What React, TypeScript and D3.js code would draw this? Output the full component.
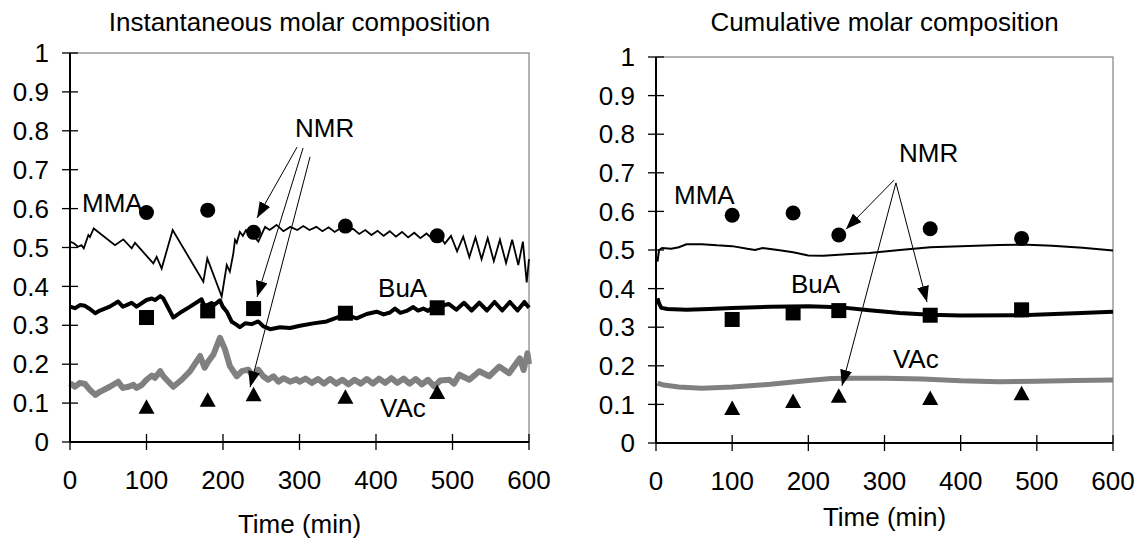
import React from "react";
import * as d3 from "d3";

type P = [number, number];

// ---------- Data ----------
const xTicks = [0, 100, 200, 300, 400, 500, 600];
const yTicks = [0, 0.1, 0.2, 0.3, 0.4, 0.5, 0.6, 0.7, 0.8, 0.9, 1];
const yTickLabels = ["0", "0.1", "0.2", "0.3", "0.4", "0.5", "0.6", "0.7", "0.8", "0.9", "1"];

const nmrTimes = [100, 180, 240, 360, 480];
const nmrMMA = [0.59, 0.596, 0.539, 0.555, 0.53];
const nmrBuA = [0.32, 0.337, 0.343, 0.331, 0.345];
const nmrVAc = [0.088, 0.106, 0.12, 0.114, 0.126];

const instMMA: P[] = [
  [0, 0.515], [5, 0.511], [10.5, 0.502], [15, 0.506], [18, 0.498], [24, 0.532], [26, 0.527], [31, 0.549],
  [58.8, 0.506], [69.7, 0.521], [80.6, 0.498], [85, 0.512], [108.9, 0.459], [113.3, 0.476], [119.8, 0.446],
  [134.2, 0.545], [174.3, 0.412], [179.5, 0.472], [198.3, 0.374], [204.9, 0.455], [209, 0.438], [213.5, 0.485],
  [215.7, 0.52], [218, 0.512], [222, 0.54], [226, 0.53], [230, 0.545], [238, 0.535], [246.2, 0.515], [255, 0.553],
  [261, 0.545], [270, 0.558], [279, 0.542], [288, 0.553], [297, 0.545], [305, 0.555], [313, 0.545], [322, 0.553],
  [330, 0.542], [338, 0.552], [346, 0.54], [354, 0.55], [362, 0.543], [370, 0.548], [378, 0.535], [386, 0.545],
  [394, 0.532], [402, 0.543], [410, 0.53], [418, 0.542], [426, 0.528], [434, 0.54], [442, 0.526], [450, 0.538],
  [458, 0.524], [466, 0.536], [474, 0.522], [482, 0.535], [490, 0.51], [498, 0.53], [506, 0.49], [514, 0.528],
  [522, 0.475], [530, 0.526], [538, 0.47], [546, 0.524], [554, 0.465], [562, 0.52], [570, 0.46], [578, 0.52],
  [586, 0.455], [592, 0.515], [597, 0.41], [600, 0.47],
];

const instBuA: P[] = [
  [0, 0.348], [6.5, 0.344], [13, 0.352], [19.6, 0.35], [26, 0.342], [33, 0.331], [39, 0.338], [52, 0.348],
  [63, 0.361], [69, 0.348], [74, 0.352], [80.5, 0.358], [87, 0.348], [100, 0.365], [107, 0.369], [111, 0.365],
  [118, 0.375], [122, 0.369], [135, 0.32], [146, 0.335], [157, 0.348], [172, 0.367], [176, 0.348], [185, 0.357],
  [189, 0.353], [196, 0.364], [199.6, 0.348], [205, 0.335], [211.5, 0.309], [218, 0.301], [222, 0.295],
  [229, 0.305], [237.5, 0.303], [246, 0.31], [253, 0.297], [261.5, 0.29], [274.5, 0.295], [287.6, 0.293],
  [300.6, 0.299], [318, 0.305], [335.5, 0.31], [350.7, 0.321], [361.6, 0.327], [374.7, 0.318], [387.8, 0.329],
  [400.8, 0.335], [410, 0.328], [418.3, 0.333], [424.8, 0.343], [432, 0.332], [440, 0.337], [448.7, 0.347],
  [455, 0.338], [461.8, 0.343], [468, 0.337], [474.8, 0.347], [481, 0.34], [487.8, 0.351], [495, 0.355],
  [505, 0.34], [515, 0.358], [525, 0.338], [535, 0.358], [545, 0.338], [555, 0.36], [565, 0.338], [575, 0.36],
  [585, 0.338], [594, 0.36], [600, 0.345],
];

const instVAc: P[] = [
  [0, 0.151], [6.5, 0.142], [13, 0.152], [19.6, 0.149], [26, 0.134], [33, 0.121], [39, 0.129], [52, 0.142],
  [63, 0.155], [69, 0.139], [76.5, 0.142], [83, 0.147], [87, 0.139], [94, 0.147], [100, 0.16], [107, 0.171],
  [111, 0.165], [118, 0.182], [122, 0.169], [135, 0.142], [146, 0.16], [157, 0.182], [170, 0.221], [176, 0.191],
  [181, 0.208], [187.5, 0.225], [196, 0.268], [202.6, 0.238], [209, 0.195], [218, 0.169], [224.6, 0.182],
  [233, 0.186], [239.6, 0.169], [246, 0.186], [252.6, 0.169], [259, 0.16], [266, 0.169], [272.5, 0.155],
  [279, 0.164], [287.6, 0.155], [296, 0.161], [300, 0.155], [308, 0.163], [316, 0.152], [324, 0.162],
  [332, 0.15], [340, 0.162], [348, 0.15], [356, 0.16], [364, 0.148], [372, 0.16], [380, 0.15], [388, 0.162],
  [396, 0.15], [404, 0.163], [412, 0.152], [420, 0.164], [428, 0.152], [436, 0.163], [444, 0.15], [452, 0.162],
  [460, 0.148], [468, 0.16], [476, 0.143], [484, 0.158], [496, 0.16], [502, 0.15], [509, 0.173], [522, 0.16],
  [535, 0.182], [548, 0.169], [561, 0.194], [574, 0.177], [588, 0.215], [593, 0.185], [598, 0.228], [600, 0.2],
];

const cumMMA: P[] = [
  [2, 0.47], [4, 0.5], [8, 0.505], [20, 0.503], [30, 0.507], [40, 0.515], [60, 0.515], [80, 0.512],
  [100, 0.51], [120, 0.503], [130, 0.5], [140, 0.505], [160, 0.5], [180, 0.494], [200, 0.486], [220, 0.485],
  [250, 0.489], [280, 0.492], [320, 0.5], [360, 0.507], [400, 0.51], [450, 0.513], [480, 0.514], [520, 0.511],
  [560, 0.506], [600, 0.499],
];

const cumBuA: P[] = [
  [2, 0.375], [4, 0.362], [7, 0.35], [15, 0.347], [40, 0.345], [70, 0.347], [100, 0.35], [150, 0.353],
  [200, 0.354], [240, 0.352], [280, 0.344], [320, 0.337], [360, 0.332], [400, 0.33], [480, 0.331],
  [550, 0.336], [600, 0.34],
];

const cumVAc: P[] = [
  [2, 0.155], [10, 0.15], [30, 0.145], [60, 0.142], [100, 0.145], [150, 0.152], [200, 0.162], [230, 0.167],
  [260, 0.168], [300, 0.168], [350, 0.166], [400, 0.161], [450, 0.159], [500, 0.16], [550, 0.162], [600, 0.163],
];

// annotation text positions (data units)
type Lbl = { text: string; t: number; v: number };
const instLabels: Lbl[] = [
  { text: "MMA", t: 15.7, v: 0.591 },
  { text: "BuA", t: 402.7, v: 0.373 },
  { text: "VAc", t: 405.3, v: 0.064 },
  { text: "NMR", t: 294.2, v: 0.784 },
];
const cumLabels: Lbl[] = [
  { text: "MMA", t: 23.6, v: 0.619 },
  { text: "BuA", t: 177.2, v: 0.389 },
  { text: "VAc", t: 311, v: 0.194 },
  { text: "NMR", t: 319, v: 0.728 },
];

// arrows: [fromT, fromV, toT, toV]
type Arr = [number, number, number, number];
const instArrows: Arr[] = [
  [296.8, 0.758, 244.5, 0.576],
  [304.7, 0.756, 244.5, 0.373],
  [313.8, 0.733, 235.4, 0.141],
];
const cumArrows: Arr[] = [
  [312.5, 0.681, 249.4, 0.554],
  [315, 0.674, 355.8, 0.365],
  [315, 0.674, 244.2, 0.148],
];

// ---------- Drawing ----------
const FONT = "'Liberation Sans', Arial, Helvetica, sans-serif";
const FS = 26;

type PanelProps = {
  id: string;
  title: string;
  left: number;
  right: number;
  top: number;
  bottom: number;
  xTitleY: number;
  mma: P[];
  bua: P[];
  vac: P[];
  labels: Lbl[];
  arrows: Arr[];
  mmaW: number;
  buaW: number;
  vacW: number;
};

function Panel(p: PanelProps) {
  const x = d3.scaleLinear().domain([0, 600]).range([p.left, p.right]);
  const y = d3.scaleLinear().domain([0, 1]).range([p.bottom, p.top]);
  const line = d3
    .line<P>()
    .x((d) => x(d[0]))
    .y((d) => y(d[1]));
  const cx = (p.left + p.right) / 2;
  const tri = (px: number, py: number) =>
    `M${px},${py - 8.5}L${px - 8},${py + 6}L${px + 8},${py + 6}Z`;

  return (
    <g>
      <defs>
        <marker
          id={`ah-${p.id}`}
          viewBox="0 0 16 12"
          refX={16}
          refY={6}
          markerWidth={16}
          markerHeight={12}
          markerUnits="userSpaceOnUse"
          orient="auto"
        >
          <path d="M0,0L16,6L0,12Z" fill="#000" />
        </marker>
      </defs>
      {/* title */}
      <text x={cx} y={31} textAnchor="middle" fontFamily={FONT} fontSize={FS} fill="#000">
        {p.title}
      </text>
      {/* frame */}
      <rect
        x={p.left}
        y={p.top}
        width={p.right - p.left}
        height={p.bottom - p.top}
        fill="none"
        stroke="#808080"
        strokeWidth={1.2}
      />
      {/* series */}
      <path d={line(p.vac) || ""} fill="none" stroke="#808080" strokeWidth={p.vacW} strokeLinejoin="round" />
      <path d={line(p.bua) || ""} fill="none" stroke="#000" strokeWidth={p.buaW} strokeLinejoin="round" />
      <path d={line(p.mma) || ""} fill="none" stroke="#000" strokeWidth={p.mmaW} strokeLinejoin="miter" />
      {/* NMR markers */}
      {nmrTimes.map((t, i) => (
        <circle key={`c${i}`} cx={x(t)} cy={y(nmrMMA[i])} r={7.5} fill="#000" />
      ))}
      {nmrTimes.map((t, i) => (
        <rect key={`s${i}`} x={x(t) - 7.5} y={y(nmrBuA[i]) - 7.5} width={15} height={15} fill="#000" />
      ))}
      {nmrTimes.map((t, i) => (
        <path key={`t${i}`} d={tri(x(t), y(nmrVAc[i]))} fill="#000" />
      ))}
      {/* axes */}
      <line x1={p.left} x2={p.left} y1={p.top} y2={p.bottom} stroke="#000" strokeWidth={2} />
      <line x1={p.left} x2={p.right} y1={p.bottom} y2={p.bottom} stroke="#000" strokeWidth={2} />
      {yTicks.map((v, i) => (
        <g key={`yt${i}`}>
          <line x1={p.left - 8} x2={p.left + 8} y1={y(v)} y2={y(v)} stroke="#000" strokeWidth={1.3} />
          <text
            x={p.left - 21}
            y={y(v)}
            dy="0.35em"
            textAnchor="end"
            fontFamily={FONT}
            fontSize={FS}
            fill="#000"
          >
            {yTickLabels[i]}
          </text>
        </g>
      ))}
      {xTicks.map((t, i) => (
        <g key={`xt${i}`}>
          <line x1={x(t)} x2={x(t)} y1={p.bottom - 8} y2={p.bottom + 8} stroke="#000" strokeWidth={1.3} />
          <text x={x(t)} y={p.bottom + 47} textAnchor="middle" fontFamily={FONT} fontSize={FS} fill="#000">
            {String(t)}
          </text>
        </g>
      ))}
      <text x={cx} y={p.xTitleY} textAnchor="middle" fontFamily={FONT} fontSize={FS} fill="#000">
        Time (min)
      </text>
      {/* annotations */}
      {p.labels.map((l, i) => (
        <text key={`l${i}`} x={x(l.t)} y={y(l.v)} fontFamily={FONT} fontSize={FS} fill="#000">
          {l.text}
        </text>
      ))}
      {p.arrows.map((a, i) => (
        <line
          key={`a${i}`}
          x1={x(a[0])}
          y1={y(a[1])}
          x2={x(a[2])}
          y2={y(a[3])}
          stroke="#000"
          strokeWidth={1}
          markerEnd={`url(#ah-${p.id})`}
        />
      ))}
    </g>
  );
}

export default function App() {
  return (
    <svg
      width={1142}
      height={542}
      viewBox="0 0 1142 542"
      style={{ position: "absolute", left: 0, top: 0, background: "#fff" }}
    >
      <rect x={0} y={0} width={1142} height={542} fill="#fff" />
      <Panel
        id="inst"
        title="Instantaneous molar composition"
        left={70}
        right={529}
        top={53}
        bottom={442}
        xTitleY={533}
        mma={instMMA}
        bua={instBuA}
        vac={instVAc}
        labels={instLabels}
        arrows={instArrows}
        mmaW={1.8}
        buaW={4}
        vacW={6}
      />
      <Panel
        id="cum"
        title="Cumulative molar composition"
        left={656}
        right={1113}
        top={57}
        bottom={443}
        xTitleY={526}
        mma={cumMMA}
        bua={cumBuA}
        vac={cumVAc}
        labels={cumLabels}
        arrows={cumArrows}
        mmaW={2}
        buaW={4}
        vacW={5}
      />
    </svg>
  );
}
